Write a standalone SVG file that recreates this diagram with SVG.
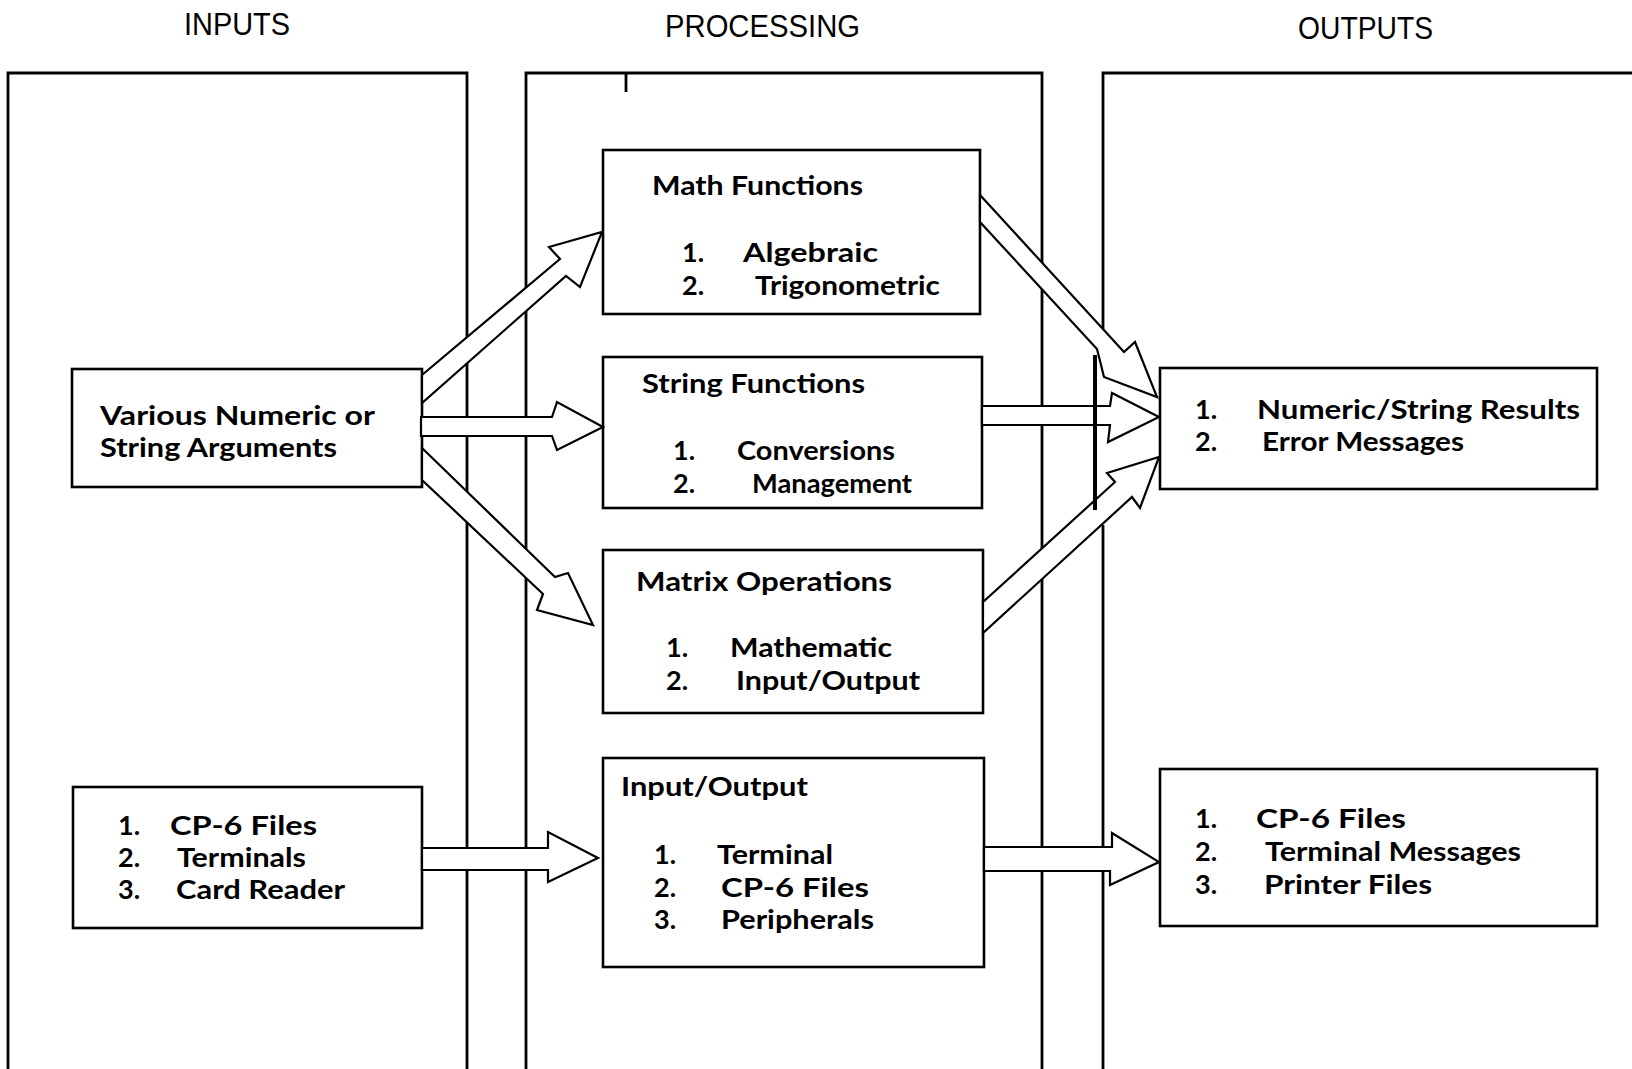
<svg xmlns="http://www.w3.org/2000/svg" width="1632" height="1069" viewBox="0 0 1632 1069">
<style>
  .panel { fill: none; stroke: #000; stroke-width: 2.8; }
  .box { fill: #fff; stroke: #000; stroke-width: 2.6; }
  .arrow { fill: #fff; stroke: #000; stroke-width: 2.2; stroke-linejoin: miter; }
  .t { font-family: Lato, "Liberation Sans", sans-serif; font-weight: bold; font-size: 27px; fill: #000; }
  .title { font-family: "Liberation Sans", Lato, sans-serif; font-size: 32px; fill: #000; }
</style>
<rect width="1632" height="1069" fill="#fff"/>

<g id="titles">
  <text class="title" x="184" y="35" textLength="106" lengthAdjust="spacingAndGlyphs">INPUTS</text>
  <text class="title" x="665" y="37" textLength="195" lengthAdjust="spacingAndGlyphs">PROCESSING</text>
  <text class="title" x="1298" y="39" textLength="135" lengthAdjust="spacingAndGlyphs">OUTPUTS</text>
</g>

<g id="panels">
  <path class="panel" d="M8,1069 V73 H467 V1069"/>
  <path class="panel" d="M526,1069 V73 H1042 V1069"/>
  <path class="panel" d="M1103,1069 V525 M1103,335 V73 H1632"/>
  <path class="panel" d="M626,73 V92" stroke-width="1.5"/>
</g>

<g id="node-various">
  <rect class="box" x="72" y="369" width="350" height="118"/>
  <text class="t" x="100" y="425" textLength="275" lengthAdjust="spacingAndGlyphs">Various Numeric or</text>
  <text class="t" x="100" y="457" textLength="237" lengthAdjust="spacingAndGlyphs">String Arguments</text>
</g>

<g id="node-input-devices">
  <rect class="box" x="73" y="787" width="349" height="141"/>
  <text class="t" x="118" y="835">1.</text>
  <text class="t" x="170" y="835" textLength="147" lengthAdjust="spacingAndGlyphs">CP-6 Files</text>
  <text class="t" x="118" y="867">2.</text>
  <text class="t" x="177" y="867" textLength="129" lengthAdjust="spacingAndGlyphs">Terminals</text>
  <text class="t" x="118" y="899">3.</text>
  <text class="t" x="176" y="899" textLength="169" lengthAdjust="spacingAndGlyphs">Card Reader</text>
</g>

<g id="node-math">
  <rect class="box" x="603" y="150" width="377" height="164"/>
  <text class="t" x="652" y="195" textLength="211" lengthAdjust="spacingAndGlyphs">Math Functions</text>
  <text class="t" x="682" y="262">1.</text>
  <text class="t" x="743" y="262" textLength="135" lengthAdjust="spacingAndGlyphs">Algebraic</text>
  <text class="t" x="682" y="295">2.</text>
  <text class="t" x="755" y="295" textLength="185" lengthAdjust="spacingAndGlyphs">Trigonometric</text>
</g>

<g id="node-string">
  <rect class="box" x="603" y="357" width="379" height="151"/>
  <text class="t" x="642" y="393" textLength="223" lengthAdjust="spacingAndGlyphs">String Functions</text>
  <text class="t" x="673" y="460">1.</text>
  <text class="t" x="737" y="460" textLength="158" lengthAdjust="spacingAndGlyphs">Conversions</text>
  <text class="t" x="673" y="493">2.</text>
  <text class="t" x="752" y="493" textLength="160" lengthAdjust="spacingAndGlyphs">Management</text>
</g>

<g id="node-matrix">
  <rect class="box" x="603" y="550" width="380" height="163"/>
  <text class="t" x="636" y="591" textLength="256" lengthAdjust="spacingAndGlyphs">Matrix Operations</text>
  <text class="t" x="666" y="657">1.</text>
  <text class="t" x="730" y="657" textLength="162" lengthAdjust="spacingAndGlyphs">Mathematic</text>
  <text class="t" x="666" y="690">2.</text>
  <text class="t" x="736" y="690" textLength="184" lengthAdjust="spacingAndGlyphs">Input/Output</text>
</g>

<g id="node-io">
  <rect class="box" x="603" y="758" width="381" height="209"/>
  <text class="t" x="621" y="796" textLength="187" lengthAdjust="spacingAndGlyphs">Input/Output</text>
  <text class="t" x="654" y="864">1.</text>
  <text class="t" x="717" y="864" textLength="116" lengthAdjust="spacingAndGlyphs">Terminal</text>
  <text class="t" x="654" y="897">2.</text>
  <text class="t" x="721" y="897" textLength="148" lengthAdjust="spacingAndGlyphs">CP-6 Files</text>
  <text class="t" x="654" y="929">3.</text>
  <text class="t" x="721" y="929" textLength="153" lengthAdjust="spacingAndGlyphs">Peripherals</text>
</g>

<g id="node-results">
  <rect class="box" x="1160" y="368" width="437" height="121"/>
  <text class="t" x="1195" y="419">1.</text>
  <text class="t" x="1257" y="419" textLength="323" lengthAdjust="spacingAndGlyphs">Numeric/String Results</text>
  <text class="t" x="1195" y="451">2.</text>
  <text class="t" x="1262" y="451" textLength="202" lengthAdjust="spacingAndGlyphs">Error Messages</text>
</g>

<g id="node-output-devices">
  <rect class="box" x="1160" y="769" width="437" height="157"/>
  <text class="t" x="1195" y="828">1.</text>
  <text class="t" x="1256" y="828" textLength="150" lengthAdjust="spacingAndGlyphs">CP-6 Files</text>
  <text class="t" x="1195" y="861">2.</text>
  <text class="t" x="1265" y="861" textLength="256" lengthAdjust="spacingAndGlyphs">Terminal Messages</text>
  <text class="t" x="1195" y="894">3.</text>
  <text class="t" x="1264" y="894" textLength="168" lengthAdjust="spacingAndGlyphs">Printer Files</text>
</g>

<g id="connectors">
  <polygon class="arrow" points="422,375 560,259 549,247 602,232 580,287 566,276 422,403"/>
  <polygon class="arrow" points="421,417 552,417 557,402 603,427 557,450 552,436 421,436"/>
  <polygon class="arrow" points="422,448 555,577 568,573 593,625 537,610 543,594 422,480"/>
  <polygon class="arrow" points="980,195 1124,352 1135,342 1157,397 1104,377 1097,349 980,222"/>
  <polygon class="arrow" points="982,406 1110,406 1112,393 1159,417 1108,442 1110,425 982,425"/>
  <polygon class="arrow" points="983,602 1115,482 1107,473 1159,457 1140,508 1132,497 983,633"/>
  <polygon class="arrow" points="422,848 548,848 548,832 598,858 548,882 548,870 422,870"/>
  <polygon class="arrow" points="984,847 1112,847 1112,833 1159,862 1110,885 1110,871 984,871"/>
  <line x1="1095" y1="355" x2="1095" y2="510" stroke="#000" stroke-width="4"/>
</g>
</svg>
